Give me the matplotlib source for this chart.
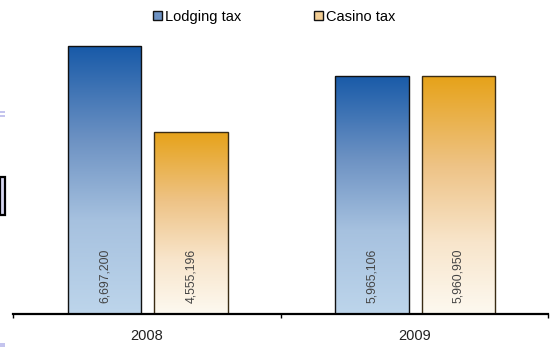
import numpy as np
import matplotlib
matplotlib.use("Agg")
import matplotlib.pyplot as plt
from matplotlib.colors import LinearSegmentedColormap
from matplotlib.patches import Rectangle

plt.rcParams['font.family'] = ['Liberation Sans', 'DejaVu Sans']

# Data
years = ["2008", "2009"]
series_names = ["Lodging tax", "Casino tax"]
lodging_tax = [6697200, 5965106]
casino_tax = [4555196, 5960950]

# Vertical gradients (bottom -> top) for each series
blue_cmap = LinearSegmentedColormap.from_list(
    "lodging", [(0.0, "#bdd5eb"), (0.35, "#a6c1df"), (0.65, "#6d92c3"), (1.0, "#185aa8")])
orange_cmap = LinearSegmentedColormap.from_list(
    "casino", [(0.0, "#fdf9f0"), (0.3, "#f8e5cb"), (0.62, "#eec386"), (1.0, "#e6a218")])
edge_colors = ["#111111", "#3a2c14"]

W, H = 556, 347
fig = plt.figure(figsize=(W / 100, H / 100), dpi=100)
ax = fig.add_axes([13 / W, 1 - 314 / H, 535 / W, (314 - 35) / H])

x = np.arange(len(years))
width = 0.275
offsets = [-0.158, 0.165]
grad = np.linspace(0, 1, 256).reshape(-1, 1)

for vals, off, cmap, ec in zip([lodging_tax, casino_tax], offsets,
                               [blue_cmap, orange_cmap], edge_colors):
    bars = ax.bar(x + off, vals, width, facecolor="none", edgecolor=ec,
                  linewidth=1.0, zorder=3)
    for b, v in zip(bars, vals):
        x0, y0 = b.get_x(), b.get_y()
        im = ax.imshow(grad, cmap=cmap, origin="lower", aspect="auto",
                       extent=[x0, x0 + b.get_width(), y0, y0 + b.get_height()],
                       zorder=2, interpolation="bilinear")
        im.set_clip_path(b)
        ax.annotate(f"{v:,}", xy=(x0 + b.get_width() / 2, 0), xytext=(0, 8.0),
                    textcoords="offset points", rotation=90, ha="center",
                    va="bottom", fontsize=8.8, color="#444444", zorder=4)

ax.set_xlim(-0.5, 1.5)
ax.set_ylim(0, 6.98e6)

for s in ["top", "right", "left"]:
    ax.spines[s].set_visible(False)
ax.spines["bottom"].set_linewidth(1.6)
ax.spines["bottom"].set_zorder(5)
ax.set_yticks([])

ax.set_xticks([-0.5, 0.5, 1.5])
ax.set_xticklabels([])
ax.tick_params(axis="x", which="major", length=3, width=1, direction="out")
ax.set_xticks(x, minor=True)
ax.set_xticklabels(years, minor=True)
ax.tick_params(axis="x", which="minor", length=0, pad=11, labelsize=10.5,
               labelcolor="#222222")

handles = [Rectangle((0, 0), 1, 1, facecolor=c, edgecolor="#111111", linewidth=1.0)
           for c in ["#6d92c3", "#f2cd94"]]
fig.legend(handles, series_names, loc="center", bbox_to_anchor=(274 / W, 1 - 17 / H),
           ncol=2, frameon=False, fontsize=10.5, handlelength=0.6, handleheight=0.6,
           handletextpad=0.2, columnspacing=5.0, borderpad=0)

# Slivers of the neighbouring panel along the left edge
fig.patches.append(Rectangle((0, 1 - 112.7 / H), 5 / W, 1.7 / H, transform=fig.transFigure,
                             facecolor="#c4c4ee", edgecolor="none"))
fig.patches.append(Rectangle((0, 1 - 116.7 / H), 5 / W, 1.7 / H, transform=fig.transFigure,
                             facecolor="#c4c4ee", edgecolor="none"))
fig.patches.append(Rectangle((0, 1 - 215 / H), 4.7 / W, 38 / H, transform=fig.transFigure,
                             facecolor="#d8d8f2", edgecolor="#000000", linewidth=1.6))
fig.patches.append(Rectangle((0, 0), 5 / W, 4 / H, transform=fig.transFigure,
                             facecolor="#c4c4ee", edgecolor="none"))

fig.savefig("out.png", dpi=100)
